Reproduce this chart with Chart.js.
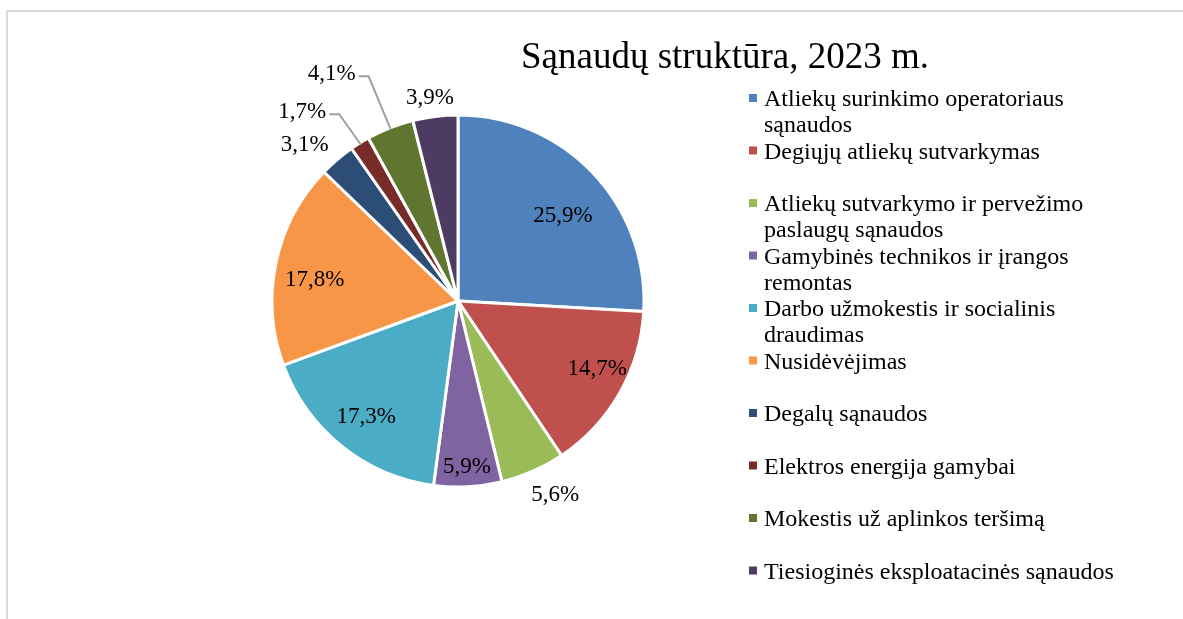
<!DOCTYPE html>
<html>
<head>
<meta charset="utf-8">
<script src="https://cdn.jsdelivr.net/npm/chart.js@4.4.0/dist/chart.umd.min.js"></script>
<style>
	html, body { margin: 0; padding: 0; background: #fff; }
	canvas { display: block; }
</style>
</head>
<body>
<canvas id="pie" width="1183" height="619"></canvas>
<script>
// categories (legend lines kept as in the picture)
const categories = [
	['Atliekų surinkimo operatoriaus', 'sąnaudos'],
	['Degiųjų atliekų sutvarkymas'],
	['Atliekų sutvarkymo ir pervežimo', 'paslaugų sąnaudos'],
	['Gamybinės technikos ir įrangos', 'remontas'],
	['Darbo užmokestis ir socialinis', 'draudimas'],
	['Nusidėvėjimas'],
	['Degalų sąnaudos'],
	['Elektros energija gamybai'],
	['Mokestis už aplinkos teršimą'],
	['Tiesioginės eksploatacinės sąnaudos']
];
const shares = [25.9, 14.7, 5.6, 5.9, 17.3, 17.8, 3.1, 1.7, 4.1, 3.9];
const colors = ['#4F81BD', '#C0504D', '#9BBB59', '#8064A2', '#4BACC6', '#F79646', '#2C4D75', '#772C2A', '#5F7530', '#4D3B62'];
const titleText = 'Sąnaudų struktūra, 2023 m.';

// label placement: radius factor, angle shift (deg), leader line
const labelPlace = [
	{ r: 0.73, da: 4 }, { r: 0.83, da: -4 }, { r: 1.16, da: -3 }, { r: 0.89, da: 0 },
	{ r: 0.79, da: 0 }, { r: 0.78, da: -3 }, { r: 1.18, da: -3.8 },
	{ r: 1.32, da: -7.5, leader: true }, { r: 1.40, da: -7.6, leader: true }, { r: 1.11, da: -0.8 }
];

const SERIF = "'Times New Roman', 'Liberation Serif', serif";
const fmtPct = v => v.toFixed(1).replace('.', ',') + '%';

const decor = {
	id: 'decor',
	beforeDraw(chart) {
		const ctx = chart.ctx;
		ctx.save();
		ctx.strokeStyle = '#d9d9d9';
		ctx.lineWidth = 2;
		ctx.beginPath();
		ctx.moveTo(7, 619); ctx.lineTo(7, 11); ctx.lineTo(1183, 11);
		ctx.stroke();
		ctx.restore();
	},
	afterDraw(chart) {
		const ctx = chart.ctx;
		const arcs = chart.getDatasetMeta(0).data;
		ctx.save();
		// title
		ctx.fillStyle = '#000';
		ctx.font = '37px ' + SERIF;
		ctx.textAlign = 'center';
		ctx.textBaseline = 'alphabetic';
		ctx.fillText(titleText, 725, 68);

		// data labels
		ctx.font = '23px ' + SERIF;
		ctx.textBaseline = 'middle';
		arcs.forEach((arc, i) => {
			const p = labelPlace[i];
			const mid = (arc.startAngle + arc.endAngle) / 2;
			const a = mid + p.da * Math.PI / 180;
			const R = arc.outerRadius;
			const x = arc.x + Math.cos(a) * R * p.r;
			const y = arc.y + Math.sin(a) * R * p.r;
			const txt = fmtPct(shares[i]);
			ctx.fillStyle = '#000';
			ctx.fillText(txt, x, y + 1);
			if (p.leader) {
				const w = ctx.measureText(txt).width;
				const sx = x + w / 2 + 3, sy = y + 3;
				ctx.strokeStyle = '#a0a0a0';
				ctx.lineWidth = 2;
				ctx.beginPath();
				ctx.moveTo(sx, sy);
				ctx.lineTo(sx + 10, sy);
				ctx.lineTo(arc.x + Math.cos(mid) * (R - 2), arc.y + Math.sin(mid) * (R - 2));
				ctx.stroke();
			}
		});

		// legend
		ctx.font = '24px ' + SERIF;
		ctx.textAlign = 'left';
		const lx = 749, tx = 764, top = 100, slot = 52.5, lineH = 26;
		categories.forEach((lines, i) => {
			const y0 = top + i * slot;
			ctx.fillStyle = colors[i];
			ctx.fillRect(lx, y0 - 6, 8, 8);
			ctx.fillStyle = '#000';
			lines.forEach((ln, k) => ctx.fillText(ln, tx, y0 + k * lineH));
		});
		ctx.restore();
	}
};

new Chart(document.getElementById('pie'), {
	type: 'pie',
	data: {
		labels: categories,
		datasets: [{ data: shares, backgroundColor: colors, borderColor: '#fff', borderWidth: 3 }]
	},
	options: {
		responsive: false,
		animation: false,
		radius: 186,
		layout: { padding: { left: 250, right: 517, top: 100, bottom: 117 } },
		plugins: { legend: { display: false }, title: { display: false }, tooltip: { enabled: false } }
	},
	plugins: [decor]
});
</script>
</body>
</html>
